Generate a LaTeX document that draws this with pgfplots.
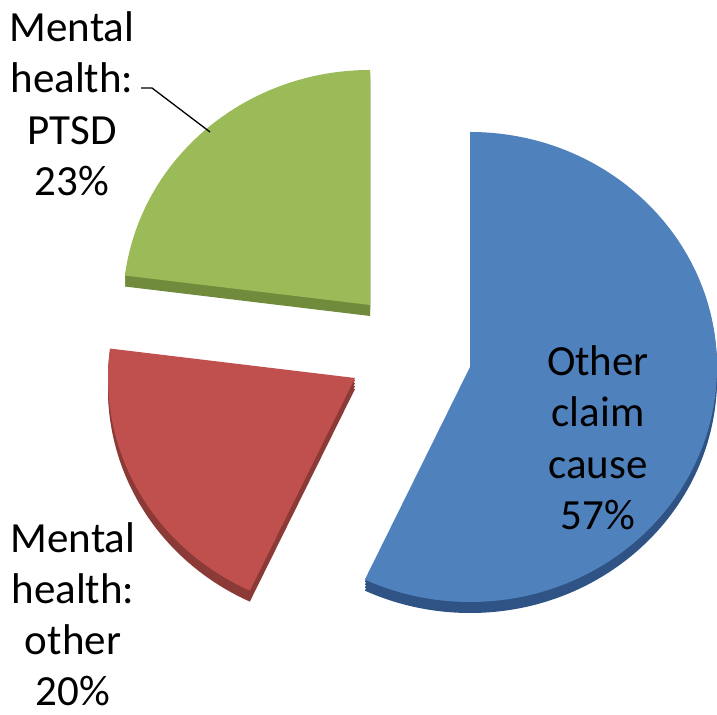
\documentclass[border=0pt]{standalone}
\usepackage{pgfplots}
\pgfplotsset{compat=1.18}
\usepackage{pgfplotstable}
\usepackage{fontspec}
\setmainfont{Carlito}
\definecolor{pieblue}{HTML}{4F81BD}
\definecolor{pieblueside}{HTML}{2E5384}
\definecolor{piered}{HTML}{C0504D}
\definecolor{pieredside}{HTML}{8C3A37}
\definecolor{piegreen}{HTML}{9BBB59}
\definecolor{piegreenside}{HTML}{708B3C}

% slices in clockwise order from 12 o'clock; cx, cy = exploded centre of each slice
\pgfplotstableread{
name value cx cy
other 57 470 348
mhother 20 355 337
ptsd 23 370 410
}\piedata

\newcommand\slicepath[5]{% cx, cy, start angle, end angle, colour
  \fill[#5] (axis cs:#1,#2) -- (axis cs:{#1+247*cos(#3)},{#2+235*sin(#3)})
    arc[start angle=#3,end angle=#4,x radius=247bp,y radius=235bp] -- cycle;}
\newcommand\drawslice[6]{%
  \slicepath{#1}{#2-11}{#3}{#4}{#6}%
  \slicepath{#1}{#2-8}{#3}{#4}{#6}%
  \slicepath{#1}{#2-5}{#3}{#4}{#6}%
  \slicepath{#1}{#2-2}{#3}{#4}{#6}%
  \slicepath{#1}{#2}{#3}{#4}{#5}}

\begin{document}
\begin{tikzpicture}
\pgfplotstablegetelem{0}{value}\of\piedata \let\vA\pgfplotsretval
\pgfplotstablegetelem{1}{value}\of\piedata \let\vB\pgfplotsretval
\pgfplotstablegetelem{2}{value}\of\piedata \let\vC\pgfplotsretval
\pgfplotstablegetelem{0}{cx}\of\piedata \let\xA\pgfplotsretval
\pgfplotstablegetelem{1}{cx}\of\piedata \let\xB\pgfplotsretval
\pgfplotstablegetelem{2}{cx}\of\piedata \let\xC\pgfplotsretval
\pgfplotstablegetelem{0}{cy}\of\piedata \let\yA\pgfplotsretval
\pgfplotstablegetelem{1}{cy}\of\piedata \let\yB\pgfplotsretval
\pgfplotstablegetelem{2}{cy}\of\piedata \let\yC\pgfplotsretval
\pgfmathsetmacro\aA{90}
\pgfmathsetmacro\aB{\aA-3.6*\vA}
\pgfmathsetmacro\aC{\aB-3.6*\vB}
\pgfmathsetmacro\aD{\aC-3.6*\vC}
\begin{axis}[
  width=717bp, height=715bp, scale only axis,
  xmin=0, xmax=717, ymin=0, ymax=715,
  hide axis, clip=false]
\addplot[draw=none] coordinates {(0,0) (717,715)};
\drawslice{\xC}{\yC}{\aC}{\aD}{piegreen}{piegreenside}
\drawslice{\xB}{\yB}{\aB}{\aC}{piered}{pieredside}
\drawslice{\xA}{\yA}{\aA}{\aB}{pieblue}{pieblueside}
\draw[black, line width=1.3bp] (axis cs:141,627) -- (axis cs:152,627) -- (axis cs:210,583);
\node[align=center, inner sep=0pt, anchor=north, font=\fontsize{43bp}{51.5bp}\selectfont]
  at (axis cs:72,704) {Mental\\health:\\PTSD\\23\%};
\node[align=center, inner sep=0pt, anchor=south, font=\fontsize{43bp}{51bp}\selectfont]
  at (axis cs:73,9) {Mental\\health:\\other\\20\%};
\node[align=center, inner sep=0pt, anchor=north, font=\fontsize{43bp}{51.5bp}\selectfont]
  at (axis cs:598,370) {Other\\claim\\cause\\57\%};
\end{axis}
\end{tikzpicture}
\end{document}
